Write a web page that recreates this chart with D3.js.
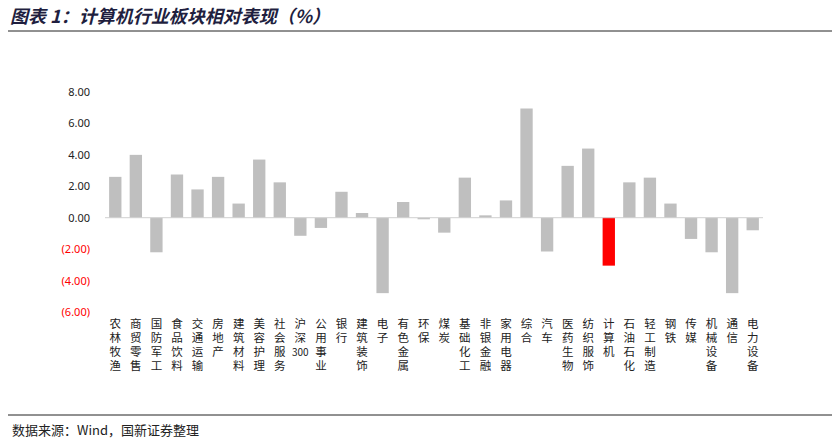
<!DOCTYPE html>
<html><head><meta charset="utf-8">
<script src="https://cdn.jsdelivr.net/npm/d3@7"></script>
<style>body{margin:0;background:#fff;font-family:"Noto Sans CJK SC","Noto Sans",sans-serif}</style>
</head><body><svg id="c" width="840" height="443"></svg>
<script>
'use strict';
const categories = ['农林牧渔','商贸零售','国防军工','食品饮料','交通运输','房地产','建筑材料','美容护理','社会服务','沪深300','公用事业','银行','建筑装饰','电子','有色金属','环保','煤炭','基础化工','非银金融','家用电器','综合','汽车','医药生物','纺织服饰','计算机','石油石化','轻工制造','钢铁','传媒','机械设备','通信','电力设备'];
const values = [2.6,4.0,-2.2,2.75,1.8,2.6,0.9,3.7,2.25,-1.15,-0.65,1.65,0.3,-4.8,1.0,-0.1,-0.95,2.55,0.15,1.1,6.95,-2.15,3.3,4.4,-3.05,2.25,2.55,0.9,-1.35,-2.2,-4.8,-0.8];
const yTicks = [8,6,4,2,0,-2,-4,-6];
const highlight = '计算机';

const svg = d3.select('#c');
svg.append('text').attr('x',10).attr('y',23).attr('font-size',18).attr('font-weight','bold')
   .attr('font-style','italic').attr('fill','#1f1f3f').text('图表 1：计算机行业板块相对表现（%）');
svg.append('line').attr('x1',8).attr('x2',832).attr('y1',31).attr('y2',31).attr('stroke','#222').attr('stroke-width',1);
svg.append('line').attr('x1',8).attr('x2',832).attr('y1',415).attr('y2',415).attr('stroke','#222').attr('stroke-width',1);
svg.append('text').attr('x',12).attr('y',435).attr('font-size',13).attr('fill','#222').text('数据来源：Wind，国新证券整理');

const x = d3.scaleBand().domain(categories).range([105,763]).paddingInner(0.4).paddingOuter(0.2);
const y = d3.scaleLinear().domain([-6,8]).range([312,92]);

const g = svg.append('g');
g.selectAll('rect').data(categories).enter().append('rect')
  .attr('x', d => x(d))
  .attr('width', x.bandwidth())
  .attr('y', (d,i) => y(Math.max(0, values[i])))
  .attr('height', (d,i) => Math.abs(y(values[i]) - y(0)))
  .attr('fill', d => d === highlight ? '#ff0000' : '#bfbfbf');

g.append('line').attr('x1',105).attr('x2',763).attr('y1',y(0)).attr('y2',y(0)).attr('stroke','#d0d0d0');

const fmt = v => v < 0 ? '(' + Math.abs(v).toFixed(2) + ')' : v.toFixed(2);
svg.append('g').selectAll('text').data(yTicks).enter().append('text')
  .attr('x',90).attr('y', d => y(d) + 4).attr('text-anchor','end').attr('font-size',11)
  .attr('font-family','Noto Sans, sans-serif')
  .attr('fill', d => d < 0 ? '#ff0000' : '#222').text(fmt);

const lab = svg.append('g');
categories.forEach(c => {
  const parts = c.match(/[0-9]+|./g);
  const cx = x(c) + x.bandwidth() / 2;
  parts.forEach((p, j) => {
    lab.append('text').attr('x', cx).attr('y', 328 + j * 14).attr('text-anchor','middle')
      .attr('font-size', /[0-9]/.test(p) ? 10 : 11.5).attr('fill','#222').text(p);
  });
});
</script></body></html>
